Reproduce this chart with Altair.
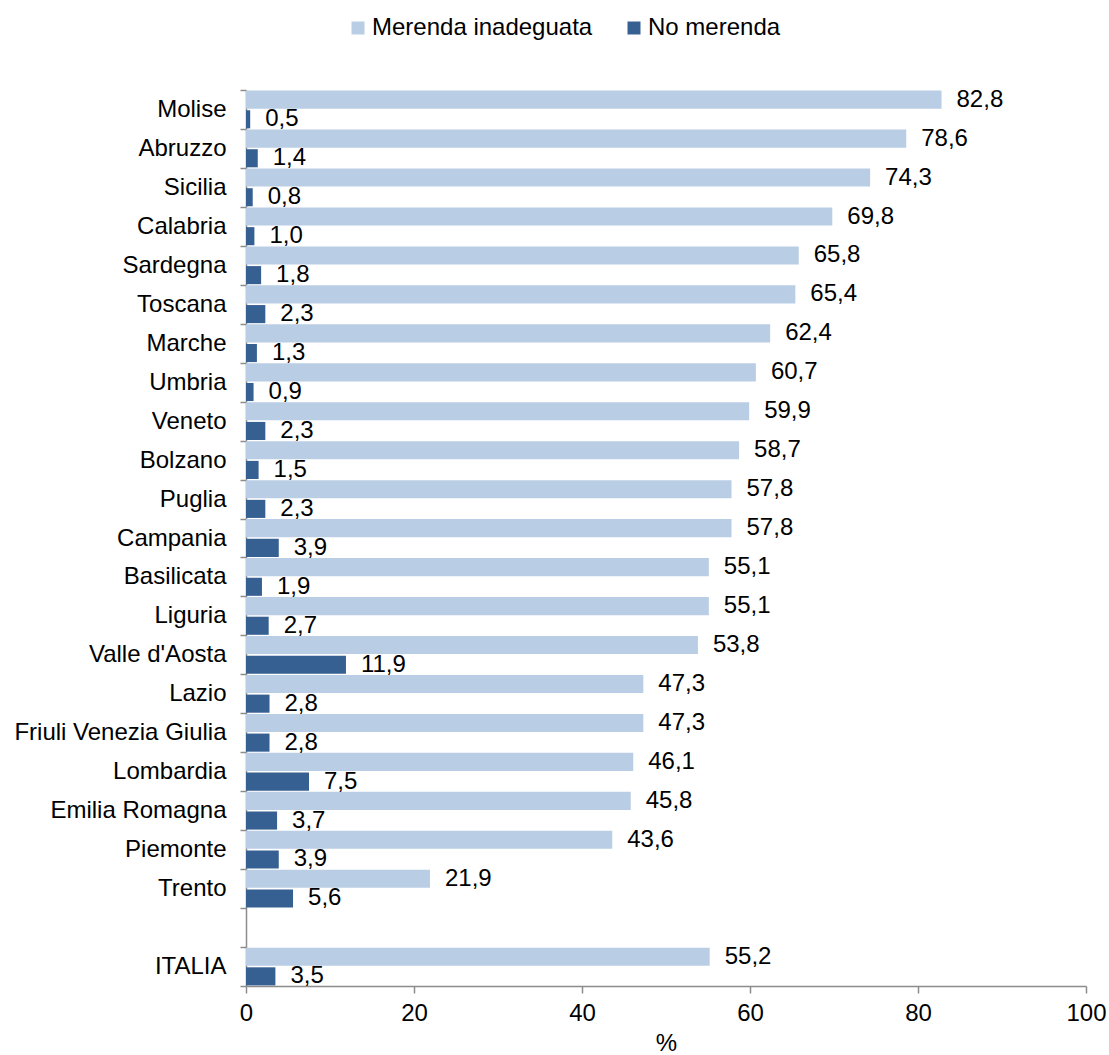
import altair as alt
import pandas as pd

regions = ["Molise", "Abruzzo", "Sicilia", "Calabria", "Sardegna", "Toscana", "Marche",
           "Umbria", "Veneto", "Bolzano", "Puglia", "Campania", "Basilicata", "Liguria",
           "Valle d'Aosta", "Lazio", "Friuli Venezia Giulia", "Lombardia", "Emilia Romagna",
           "Piemonte", "Trento", "ITALIA"]
inadeguata = [82.8, 78.6, 74.3, 69.8, 65.8, 65.4, 62.4, 60.7, 59.9, 58.7, 57.8, 57.8,
              55.1, 55.1, 53.8, 47.3, 47.3, 46.1, 45.8, 43.6, 21.9, 55.2]
no_merenda = [0.5, 1.4, 0.8, 1.0, 1.8, 2.3, 1.3, 0.9, 2.3, 1.5, 2.3, 3.9,
              1.9, 2.7, 11.9, 2.8, 2.8, 7.5, 3.7, 3.9, 5.6, 3.5]
series = ["Merenda inadeguata", "No merenda"]
colors = ["#B9CDE5", "#376092"]

rows = []
for r, a, b in zip(regions, inadeguata, no_merenda):
    rows.append({"region": r, "series": series[0], "value": a})
    rows.append({"region": r, "series": series[1], "value": b})
df = pd.DataFrame(rows)
df["label"] = df["value"].map(lambda v: f"{v:.1f}".replace(".", ","))

domain = regions[:-1] + [" "] + regions[-1:]

FONT = "Liberation Sans"
FS = 24
GRAY = "#8c8c8c"

y_enc = alt.Y("region:N", scale=alt.Scale(domain=domain, paddingInner=0, paddingOuter=0),
              axis=alt.Axis(title=None, labelFontSize=FS, labelFont=FONT, labelColor="black",
                            labelPadding=14, tickSize=6, tickBand="extent", tickColor=GRAY,
                            domainColor=GRAY, domainWidth=1.5, tickWidth=1.5, grid=False,
                            labelLimit=400))
yoff = alt.YOffset("series:N", scale=alt.Scale(domain=series, paddingInner=0.08, paddingOuter=0.03))
x_enc = alt.X("value:Q", scale=alt.Scale(domain=[0, 100], nice=False),
              axis=alt.Axis(title="%", values=[0, 20, 40, 60, 80, 100], labelFontSize=FS,
                            labelFont=FONT, labelColor="black", titleFontSize=FS,
                            titleFont=FONT, titleFontWeight="normal", titleColor="black",
                            titlePadding=6, labelPadding=8, tickSize=7, tickColor=GRAY,
                            domainColor=GRAY, domainWidth=1.5, tickWidth=1.5, grid=False,
                            labelFlush=False, labelOverlap=False))

bars = alt.Chart(df).mark_bar().encode(
    x=x_enc, y=y_enc, yOffset=yoff,
    color=alt.Color("series:N", scale=alt.Scale(domain=series, range=colors),
                    legend=alt.Legend(title=None, orient="none", direction="horizontal",
                                      legendX=100, legendY=-74, symbolType="square",
                                      symbolSize=169, symbolStrokeWidth=0,
                                      labelFontSize=FS, labelFont=FONT, labelColor="black",
                                      labelOffset=2, columnPadding=29, padding=0,
                                      labelLimit=400)),
)

texts = alt.Chart(df).mark_text(align="left", baseline="middle", dx=15, fontSize=FS,
                                font=FONT, color="black").encode(
    x="value:Q", y=alt.Y("region:N", scale=alt.Scale(domain=domain)), yOffset=yoff,
    text="label:N")

chart = alt.layer(bars, texts).properties(
    width=840, height=896,
    autosize=alt.AutoSizeParams(type="none"),
    padding={"left": 246, "top": 90, "right": 23, "bottom": 69},
    background="white",
).configure_view(stroke=None)

chart.save("out.html", embed_options={"renderer": "svg", "actions": False})
